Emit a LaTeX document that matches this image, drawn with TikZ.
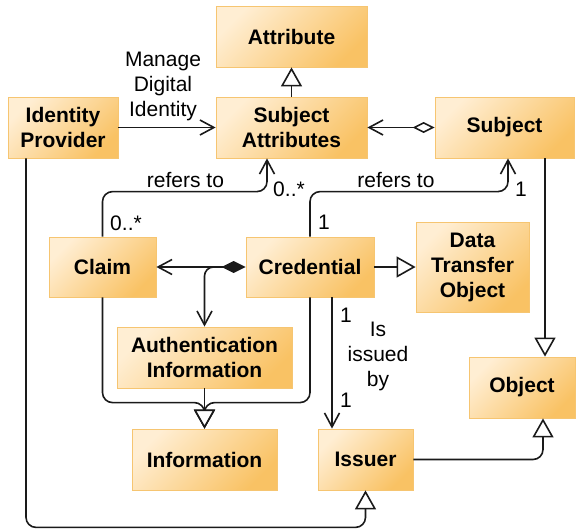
\documentclass[tikz,border=0pt]{standalone}
\usepackage{fontspec}
\setmainfont{Liberation Sans}
\usetikzlibrary{arrows.meta}
\definecolor{boxlight}{HTML}{FFEED3}
\definecolor{boxmid}{HTML}{FDD898}
\definecolor{boxdark}{HTML}{F9C264}
\definecolor{boxedge}{HTML}{F6C571}
\definecolor{wire}{HTML}{1A1A1A}
\begin{document}
\begin{tikzpicture}[x=1pt,y=-1pt,
  cls/.style={rectangle, draw=boxedge, line width=0.8pt, top color=boxlight, middle color=boxmid, bottom color=boxdark, shading angle=45,
    font=\fontsize{21}{25}\selectfont\bfseries, align=center, inner sep=0pt},
  lbl/.style={font=\fontsize{21}{25}\selectfont, align=center, inner sep=0pt},
  conn/.style={draw=wire, line width=1.6pt, rounded corners=10pt},
  gen/.style={conn, -{Triangle[length=19pt, width=21pt, fill=white]}},
  assoc/.style={conn, -{Straight Barb[length=14pt, width=15pt]}}
]
\useasboundingbox (0,0) rectangle (576,531);
% classes
\node[cls, minimum width=151pt, minimum height=61pt] (attr) at (291.5,36.5) {Attribute};
\node[cls, minimum width=110pt, minimum height=61pt] (idp) at (63,127.5) {Identity\\Provider};
\node[cls, minimum width=151pt, minimum height=61pt] (sa) at (291.5,127.5) {Subject\\Attributes};
\node[cls, minimum width=139pt, minimum height=61pt] (subj) at (504.5,127.5) {Subject};
\node[cls, minimum width=107pt, minimum height=60pt] (claim) at (102.5,267) {Claim};
\node[cls, minimum width=128pt, minimum height=60pt] (cred) at (310,267) {Credential};
\node[cls, minimum width=113pt, minimum height=90pt] (dto) at (472.5,267) {Data\\Transfer\\Object};
\node[cls, minimum width=175pt, minimum height=61pt] (auth) at (204.5,357.5) {Authentication\\Information};
\node[cls, minimum width=145pt, minimum height=61pt] (info) at (204.5,459.5) {Information};
\node[cls, minimum width=106pt, minimum height=61pt] (obj) at (522,387.5) {Object};
\node[cls, minimum width=95pt, minimum height=61pt] (issuer) at (365.5,459.5) {Issuer};
% connectors
\draw[gen] (sa.north) -- (attr.south);
\draw[assoc] (idp.east) -- (sa.west);
\node[lbl] (mdi) at (163,86) {Manage\\Digital\\Identity};
\draw[conn, {Diamond[length=22pt, width=11pt, fill=white]}-{Straight Barb[length=14pt, width=15pt]}] (subj.west) -- (sa.east);
% claim refers to subject attributes
\draw[assoc] (claim.north) -- ++(0,-45) -| ([xshift=-24.5pt]sa.south);
\node[lbl] (r1) at (185.5,180) {refers to};
\node[lbl] (m1) at (289,189) {0..*};
\node[lbl] (m2) at (126,223) {0..*};
% credential refers to subject
\draw[assoc] (cred.north) -- ++(0,-45) -| ([xshift=3.5pt]subj.south);
\node[lbl] (r2) at (396,180) {refers to};
\node[lbl] (m3) at (521,189) {1};
\node[lbl] (m4) at (324,222) {1};
% subject is an object
\draw[gen] ([xshift=40.5pt]subj.south) -- ([xshift=40.5pt]subj.south |- obj.north);
% composition
\draw[conn, {Diamond[length=24pt, width=12pt, fill=wire]}-{Straight Barb[length=14pt, width=15pt]}] (cred.west) -- (claim.east);
\draw[assoc, rounded corners=9pt] ([xshift=-29pt]cred.west) -| (auth.north);
% credential is a DTO
\draw[gen] (cred.east) -- (dto.west);
% is issued by
\draw[assoc] ([xshift=22pt]cred.south) -- ([xshift=22pt]cred.south |- issuer.north);
\node[lbl] (m5) at (346,315) {1};
\node[lbl] (iib) at (378,356) {Is\\issued\\by};
\node[lbl] (m6) at (346,400) {1};
% information generalizations
\draw[gen] (claim.south) |- ([yshift=26pt]info.north) -- (info.north);
\draw[gen] (cred.south) |- ([yshift=26pt]info.north) -- (info.north);
\draw[gen] (auth.south) -- (info.north);
% issuer is an object
\draw[gen] (issuer.east) -| ([xshift=21pt]obj.south);
% identity provider is an issuer
\draw[gen] ([xshift=-37pt]idp.south) |- ([yshift=-37pt]issuer.south) -- (issuer.south);
\end{tikzpicture}
\end{document}
